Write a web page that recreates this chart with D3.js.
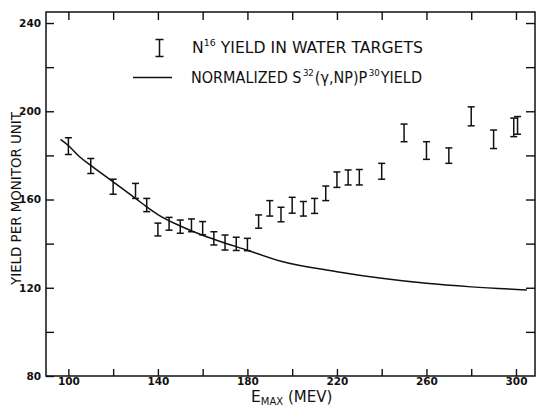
<!DOCTYPE html>
<html>
<head>
<meta charset="utf-8">
<script src="https://cdn.jsdelivr.net/npm/d3@7"></script>
<style>
  html, body { margin: 0; padding: 0; background: #fff; }
  #chart { width: 536px; height: 405px; }
  text { font-family: "DejaVu Sans", sans-serif; fill: #111; }
  .axis path.domain { display: none; }
  .axis line { stroke: #111; stroke-width: 1.4; }
  .axis text { font-size: 10.5px; font-weight: bold; fill: #111; font-family: "DejaVu Sans", sans-serif; }
</style>
</head>
<body>
<div id="chart"></div>
<script>
// N16 yield points (E max in MeV, yield per monitor unit, half error bar)
const energy   = [100, 110, 120, 130, 135, 140, 145, 150, 155, 160, 165, 170, 175, 180, 185, 190,
                  195, 200, 205, 210, 215, 220, 225, 230, 240, 250, 260, 270, 280, 290, 299, 300.7];
const yieldVal = [184.2, 175.2, 165.8, 163.9, 157.5, 146.4, 149.0, 147.7, 148.3, 147.0, 142.4, 140.5,
                  139.9, 139.6, 150.0, 156.0, 153.2, 157.4, 155.8, 157.1, 162.8, 169.0, 170.0, 170.1,
                  172.8, 190.2, 182.2, 179.9, 197.7, 187.3, 192.7, 193.6];
const yieldErr = [3.8, 3.4, 3.4, 3.4, 3.0, 2.9, 2.9, 3.0, 2.9, 3.0, 3.0, 3.4, 3.0, 2.8, 3.0, 3.5,
                  3.3, 3.6, 3.3, 3.4, 3.3, 3.5, 3.4, 3.5, 3.6, 4.0, 4.0, 3.5, 4.3, 4.2, 4.2, 4.0];

// normalized S32(g,np)P30 yield curve
const curveE = [96.5, 100, 105, 110, 120, 130, 135, 140, 150, 160, 165, 180, 195, 220, 240, 260, 280, 304.8];
const curveY = [187.3, 184.5, 179.4, 175.5, 168.0, 160.5, 156.7, 153.2, 148.0, 143.8, 142.0, 137.0,
                132.0, 127.3, 124.3, 122.0, 120.4, 119.0];

const xTicks = [100, 120, 140, 160, 180, 200, 220, 240, 260, 280, 300];
const xLabels = [100, 140, 180, 220, 260, 300];
const yTicks = [80, 100, 120, 140, 160, 180, 200, 220, 240];
const yLabels = [80, 120, 160, 200, 240];

const svg = d3.select("#chart").append("svg").attr("width", 536).attr("height", 405);

const m = { left: 46, right: 535, top: 12, bottom: 376 };

const x = d3.scaleLinear().domain([90, 308.5]).range([m.left, m.right]);
const y = d3.scaleLinear().domain([80, 245]).range([m.bottom, m.top]);

// frame
svg.append("rect")
  .attr("x", m.left).attr("y", m.top)
  .attr("width", m.right - m.left).attr("height", m.bottom - m.top)
  .attr("fill", "none").attr("stroke", "#111").attr("stroke-width", 1.5);

// axes, ticks pointing inward
svg.append("g").attr("class", "axis")
  .attr("transform", `translate(0,${m.bottom})`)
  .call(d3.axisBottom(x).tickValues(xTicks).tickSizeInner(-7).tickSizeOuter(0).tickPadding(2)
    .tickFormat(d => xLabels.includes(d) ? d : ""));

svg.append("g").attr("class", "axis")
  .attr("transform", `translate(0,${m.top})`)
  .call(d3.axisTop(x).tickValues(xTicks).tickSizeInner(-8).tickSizeOuter(0).tickFormat(""));

svg.append("g").attr("class", "axis")
  .attr("transform", `translate(${m.left},0)`)
  .call(d3.axisLeft(y).tickValues(yTicks).tickSizeInner(-8).tickSizeOuter(0).tickPadding(5)
    .tickFormat(d => yLabels.includes(d) ? d : ""));

svg.append("g").attr("class", "axis")
  .attr("transform", `translate(${m.right},0)`)
  .call(d3.axisRight(y).tickValues(yTicks.filter(d => d > 80)).tickSizeInner(-9).tickSizeOuter(0).tickFormat(""));

// curve
const curvePts = curveE.map((e, i) => ({ e, v: curveY[i] }));
svg.append("path")
  .datum(curvePts)
  .attr("fill", "none")
  .attr("stroke", "#111")
  .attr("stroke-width", 1.5)
  .attr("d", d3.line().x(d => x(d.e)).y(d => y(d.v)).curve(d3.curveMonotoneX));

// error bars
const pts = energy.map((e, i) => ({ e, v: yieldVal[i], err: yieldErr[i] }));
const bars = svg.append("g").attr("stroke", "#111").attr("stroke-width", 1.5);
const cap = 3.5;
bars.selectAll("line.stem").data(pts).enter().append("line").attr("class", "stem")
  .attr("x1", d => x(d.e)).attr("x2", d => x(d.e))
  .attr("y1", d => y(d.v - d.err)).attr("y2", d => y(d.v + d.err));
bars.selectAll("line.cap-top").data(pts).enter().append("line").attr("class", "cap-top")
  .attr("x1", d => x(d.e) - cap).attr("x2", d => x(d.e) + cap)
  .attr("y1", d => y(d.v + d.err)).attr("y2", d => y(d.v + d.err));
bars.selectAll("line.cap-bot").data(pts).enter().append("line").attr("class", "cap-bot")
  .attr("x1", d => x(d.e) - cap).attr("x2", d => x(d.e) + cap)
  .attr("y1", d => y(d.v - d.err)).attr("y2", d => y(d.v - d.err));

// legend
const lg = svg.append("g");
lg.append("path")
  .attr("d", "M155.5,39.5H163.5M159.5,39.5V56.5M155.5,56.5H163.5")
  .attr("stroke", "#111").attr("stroke-width", 1.5).attr("fill", "none");
lg.append("line")
  .attr("x1", 133).attr("x2", 172).attr("y1", 77.5).attr("y2", 77.5)
  .attr("stroke", "#111").attr("stroke-width", 1.5);

const t1 = lg.append("text").attr("x", 192).attr("y", 52.7)
  .attr("font-size", 15).attr("textLength", 231).attr("lengthAdjust", "spacingAndGlyphs");
t1.append("tspan").text("N");
t1.append("tspan").attr("font-size", 9).attr("dy", -7).text("16");
t1.append("tspan").attr("dy", 7).text("  YIELD IN WATER TARGETS");

const t2 = lg.append("text").attr("x", 191).attr("y", 83.3)
  .attr("font-size", 15).attr("textLength", 231).attr("lengthAdjust", "spacingAndGlyphs");
t2.append("tspan").text("NORMALIZED S");
t2.append("tspan").attr("font-size", 9).attr("dx", 1.5).attr("dy", -7).text("32");
t2.append("tspan").attr("dx", 1).attr("dy", 7).text("(γ,NP)P");
t2.append("tspan").attr("font-size", 9).attr("dx", 1.5).attr("dy", -7).text("30");
t2.append("tspan").attr("dx", 1).attr("dy", 7).text("YIELD");

// axis titles
svg.append("text")
  .attr("transform", "translate(20.5,198.5) rotate(-90)")
  .attr("text-anchor", "middle")
  .attr("font-size", 13.5)
  .attr("textLength", 173).attr("lengthAdjust", "spacingAndGlyphs")
  .text("YIELD PER MONITOR UNIT");

const xt = svg.append("text").attr("x", 251).attr("y", 402).attr("font-size", 15.5);
xt.append("tspan").text("E");
xt.append("tspan").attr("font-size", 10).attr("dy", 2.5).text("MAX");
xt.append("tspan").attr("font-size", 15).attr("dy", -2.5).text(" (MEV)");
</script>
</body>
</html>
